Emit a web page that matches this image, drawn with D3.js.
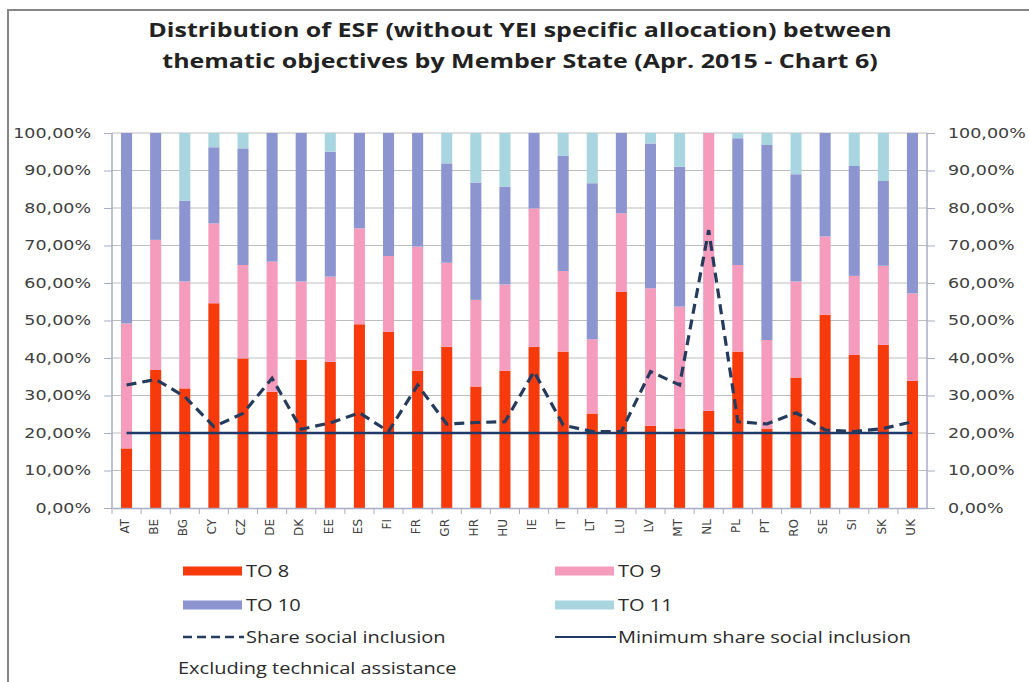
<!DOCTYPE html>
<html>
<head>
<meta charset="utf-8">
<script src="https://cdn.jsdelivr.net/npm/d3@7"></script>
<style>
  body { margin: 0; background: #fff; }
  .tick-label { font-family: "DejaVu Sans", sans-serif; font-size: 14px; fill: #404040; }
  .cat-label { font-family: "DejaVu Sans", sans-serif; font-size: 12px; fill: #404040; }
  .legend-text { font-family: "Open Sans", sans-serif; font-size: 16px; fill: #2b2b2b; }
  .title { font-family: "Open Sans", sans-serif; font-size: 20px; font-weight: bold; fill: #222; }
</style>
</head>
<body>
<svg id="chart" width="1029" height="682"></svg>
<script>
// member states
const countries = ["AT", "BE", "BG", "CY", "CZ", "DE", "DK", "EE", "ES", "FI", "FR", "GR", "HR", "HU",
    "IE", "IT", "LT", "LU", "LV", "MT", "NL", "PL", "PT", "RO", "SE", "SI", "SK", "UK"];

// share of each thematic objective, in %
const to8 = [15.9, 36.8, 31.9, 54.6, 39.9, 31.0, 39.5, 39.0, 49.0, 47.0, 36.6, 43.0, 32.4, 36.6,
    43.0, 41.7, 25.2, 57.7, 21.9, 21.2, 25.9, 41.7, 21.2, 34.8, 51.5, 40.8, 43.5, 33.9];
const to9 = [33.3, 34.7, 28.5, 21.3, 24.9, 34.7, 20.9, 22.7, 25.6, 20.2, 33.1, 22.4, 23.1, 23.0,
    36.9, 21.5, 19.8, 20.9, 36.7, 32.5, 74.1, 23.1, 23.6, 25.6, 20.9, 21.1, 21.1, 23.3];
const to10 = [50.8, 28.5, 21.5, 20.3, 31.1, 34.3, 39.6, 33.3, 25.4, 32.8, 30.3, 26.5, 31.3, 26.1,
    20.1, 30.7, 41.6, 21.4, 38.6, 37.3, 0, 33.8, 52.0, 28.6, 27.6, 29.3, 22.6, 42.8];
const to11 = [0, 0, 18.1, 3.8, 4.1, 0, 0, 5.0, 0, 0, 0, 8.1, 13.2, 14.3,
    0, 6.1, 13.4, 0, 2.8, 9.0, 0, 1.4, 3.2, 11.0, 0, 8.8, 12.8, 0];

// lines
const shareSocial = [32.8, 34.3, 29.7, 21.7, 25.2, 34.6, 21.0, 22.7, 25.4, 20.4, 32.8, 22.4, 22.8, 23.0,
    36.4, 22.1, 20.4, 20.4, 36.4, 32.8, 74.1, 23.0, 22.4, 25.4, 20.8, 20.4, 21.2, 23.0];
const minShare = countries.map(() => 20);

const yTicks = [0, 10, 20, 30, 40, 50, 60, 70, 80, 90, 100];

const seriesNames = ["TO 8", "TO 9", "TO 10", "TO 11"];
const colors = ["#f63a0c", "#f59bbb", "#8c95d0", "#a9d5e0"];
const lineColor = "#243b5e";
const minColor = "#1f3a68";

// the original picture is stretched sideways, so texts get a horizontal scale
const stretch = 1.25;

const svg = d3.select("#chart");
const plot = { left: 112, right: 927, top: 133, bottom: 508 };

// outer frame
svg.append("rect")
    .attr("x", 8).attr("y", 10)
    .attr("width", 1100).attr("height", 1000)
    .attr("fill", "#fff")
    .attr("stroke", "#868686")
    .attr("stroke-width", 2);

// title
const title = svg.append("text").attr("class", "title")
    .attr("text-anchor", "middle")
    .attr("transform", "scale(" + stretch + ",1)");
title.append("tspan").attr("x", 520 / stretch).attr("y", 37)
    .text("Distribution of ESF (without YEI specific allocation) between");
title.append("tspan").attr("x", 520 / stretch).attr("y", 68)
    .text("thematic objectives by Member State (Apr. 2015 - Chart 6)");

const x = d3.scaleBand()
    .domain(countries)
    .range([plot.left, plot.right])
    .paddingInner(0.62)
    .paddingOuter(0.31);

const y = d3.scaleLinear()
    .domain([0, 100])
    .range([plot.bottom, plot.top]);

const pctFormat = d => d3.format(".2f")(d).replace(".", ",") + "%";

// gridlines
svg.append("g")
    .selectAll("line")
    .data(yTicks.slice(1))
    .join("line")
    .attr("x1", plot.left).attr("x2", plot.right)
    .attr("y1", d => y(d)).attr("y2", d => y(d))
    .attr("stroke", "#bdbdbd")
    .attr("stroke-width", 1);

// stacked bars
const table = countries.map((c, i) => ({ c, s0: to8[i], s1: to9[i], s2: to10[i], s3: to11[i] }));
const stack = d3.stack().keys(["s0", "s1", "s2", "s3"]);
const layers = stack(table);

svg.append("g")
    .selectAll("g")
    .data(layers)
    .join("g")
    .attr("fill", (d, i) => colors[i])
    .selectAll("rect")
    .data(d => d)
    .join("rect")
    .attr("x", d => x(d.data.c))
    .attr("width", x.bandwidth())
    .attr("y", d => y(d[1]))
    .attr("height", d => y(d[0]) - y(d[1]));

// axes
const axisColor = "#a7adc4";

const yAxisL = svg.append("g")
    .attr("transform", "translate(" + plot.left + ",0)")
    .call(d3.axisLeft(y).tickValues(yTicks).tickSize(8).tickFormat(pctFormat));

yAxisL.selectAll(".tick text")
    .attr("class", "tick-label")
    .attr("x", -21 / stretch)
    .attr("transform", "scale(" + stretch + ",1)")
    .attr("text-anchor", "end");

const yAxisR = svg.append("g")
    .attr("transform", "translate(" + plot.right + ",0)")
    .call(d3.axisRight(y).tickValues(yTicks).tickSize(8).tickFormat(pctFormat));

yAxisR.selectAll(".tick text")
    .attr("class", "tick-label")
    .attr("x", 21 / stretch)
    .attr("transform", "scale(" + stretch + ",1)");

const xAxis = svg.append("g")
    .attr("transform", "translate(0," + plot.bottom + ")")
    .call(d3.axisBottom(x).tickSize(0));

xAxis.selectAll(".tick text")
    .attr("class", "cat-label")
    .attr("transform", "rotate(-90)")
    .attr("x", -11)
    .attr("y", -2)
    .attr("dy", "0.35em")
    .attr("text-anchor", "end");

// category separator ticks
xAxis.append("g")
    .selectAll("line")
    .data(countries)
    .join("line")
    .attr("x1", d => x(d) - x.step() * x.paddingInner() / 2)
    .attr("x2", d => x(d) - x.step() * x.paddingInner() / 2)
    .attr("y1", 0).attr("y2", 6)
    .attr("stroke", axisColor);

[yAxisL, yAxisR, xAxis].forEach(a => {
    a.selectAll(".domain").attr("stroke", axisColor).attr("stroke-width", 1.5);
    a.selectAll(".tick line").attr("stroke", axisColor);
});
yAxisL.select(".domain").attr("d", "M0," + plot.top + "V" + plot.bottom);
yAxisR.select(".domain").attr("d", "M0," + plot.top + "V" + plot.bottom);

// lines
const cx = d => x(d) + x.bandwidth() / 2;

const line = d3.line()
    .x((d, i) => cx(countries[i]))
    .y(d => y(d));

svg.append("path")
    .datum(minShare)
    .attr("d", line)
    .attr("fill", "none")
    .attr("stroke", minColor)
    .attr("stroke-width", 2.5);

svg.append("path")
    .datum(shareSocial)
    .attr("d", line)
    .attr("fill", "none")
    .attr("stroke", lineColor)
    .attr("stroke-width", 3.2)
    .attr("stroke-dasharray", "10,6");

// legend
const legendItems = [
    { name: seriesNames[0], type: "bar", color: colors[0], x: 183, y: 571 },
    { name: seriesNames[1], type: "bar", color: colors[1], x: 555, y: 571 },
    { name: seriesNames[2], type: "bar", color: colors[2], x: 183, y: 605 },
    { name: seriesNames[3], type: "bar", color: colors[3], x: 555, y: 605 },
    { name: "Share social inclusion", type: "dash", color: lineColor, x: 183, y: 637 },
    { name: "Minimum share social inclusion", type: "solid", color: minColor, x: 555, y: 637 }
];

const lg = svg.append("g").selectAll("g")
    .data(legendItems)
    .join("g")
    .attr("transform", d => "translate(" + d.x + "," + d.y + ")");

lg.filter(d => d.type === "bar")
    .append("rect")
    .attr("x", 0).attr("y", -4.5)
    .attr("width", 59).attr("height", 9)
    .attr("fill", d => d.color);

lg.filter(d => d.type !== "bar")
    .append("line")
    .attr("x1", 0).attr("x2", 61)
    .attr("y1", 0).attr("y2", 0)
    .attr("stroke", d => d.color)
    .attr("stroke-width", d => d.type === "dash" ? 2.5 : 2)
    .attr("stroke-dasharray", d => d.type === "dash" ? "9,5" : null);

lg.append("text")
    .attr("class", "legend-text")
    .attr("x", 63 / stretch)
    .attr("dy", "0.35em")
    .attr("transform", "scale(" + stretch + ",1)")
    .text(d => d.name);

svg.append("text")
    .attr("class", "legend-text")
    .attr("x", 178 / stretch)
    .attr("y", 668)
    .attr("dy", "0.35em")
    .attr("transform", "scale(" + stretch + ",1)")
    .text("Excluding technical assistance");
</script>
</body>
</html>
